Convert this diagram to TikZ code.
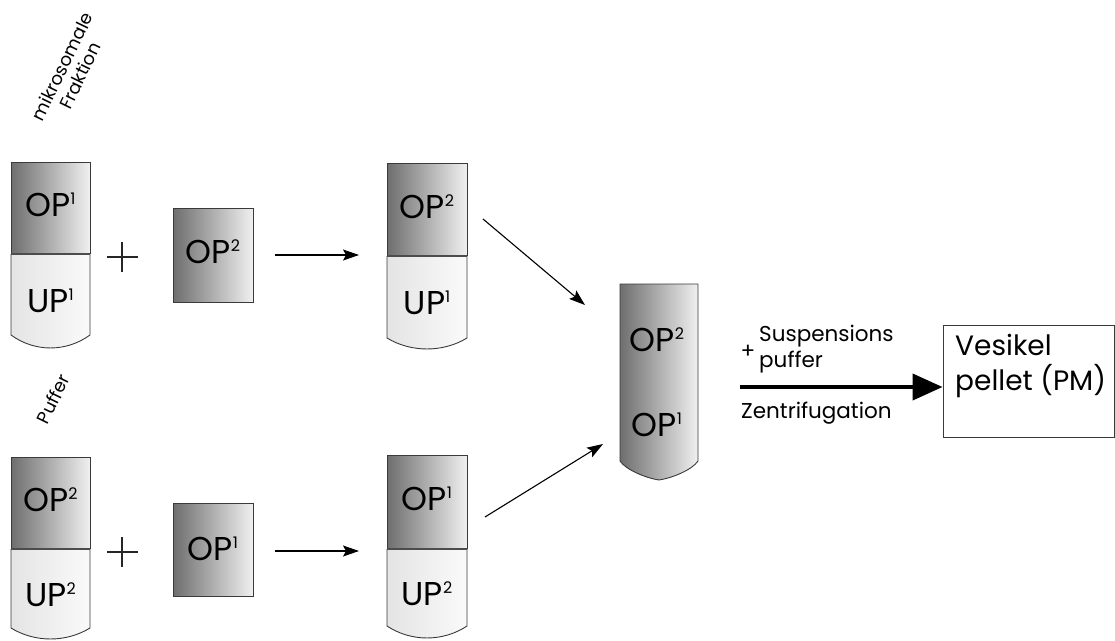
\documentclass[tikz,border=0pt]{standalone}
\usepackage{fontspec}
\setmainfont{Poppins}
\usetikzlibrary{arrows.meta,calc}

\definecolor{opdark}{HTML}{6E6E6E}
\definecolor{oplight}{HTML}{F0F0F0}
\definecolor{updark}{HTML}{E4E4E4}
\definecolor{uplight}{HTML}{FAFAFA}
\definecolor{edge}{HTML}{3A3A3A}

% small raised index after OP / UP
\newcommand\idx[1]{\raisebox{0.36em}{\fontsize{16}{16}\selectfont #1}}

\tikzset{
  outline/.style={draw=edge, line width=0.9pt},
  opfill/.style={left color=opdark, right color=oplight},
  upfill/.style={left color=updark, right color=uplight},
  lbl/.style={inner sep=0pt, font=\fontsize{33}{36}\selectfont},
  side/.style={inner sep=0pt, font=\fontsize{21.5}{26}\selectfont, align=left},
  tilt/.style={inner sep=0pt, font=\fontsize{18}{20}\selectfont, rotate=64, align=center},
  flow/.style={-{Stealth[length=16pt,width=11pt,inset=3pt]}, line width=1.1pt},
  bigflow/.style={-{Triangle[length=30pt,width=26pt]}, line width=4pt},
  plusbar/.style={line width=1.3pt, draw=black!85}
}

% two-part tube: dark upper phase, light lower phase with a rounded bottom
% #1 name, #2 left x, #3 right x, #4 top y, #5 divider y, #6 side end y, #7 bottom y, #8 upper text, #9 lower text
\newcommand\phasetube[9]{%
  \coordinate (#1-tl) at (#2,#4);
  \coordinate (#1-br) at (#3,#5);
  \shade[opfill] (#1-tl) rectangle (#1-br);
  \path[upfill] (#2,#5) -- (#2,#6) .. controls ($(#2,#6)!0.3!(#3,#6)+(0,{(#7-#6)*1.33})$) and ($(#2,#6)!0.7!(#3,#6)+(0,{(#7-#6)*1.33})$) .. (#3,#6) -- (#3,#5) -- cycle;
  \draw[outline] (#2,#5) -- (#2,#4) -- (#3,#4) -- (#3,#5);
  \draw[outline] (#2,#5) -- (#2,#6) .. controls ($(#2,#6)!0.3!(#3,#6)+(0,{(#7-#6)*1.33})$) and ($(#2,#6)!0.7!(#3,#6)+(0,{(#7-#6)*1.33})$) .. (#3,#6) -- (#3,#5);
  \draw[draw=black!70, line width=1.2pt] (#2,#5) -- (#3,#5);
  \node[lbl] (#1-up) at ($(#1-tl)!0.5!(#1-br)+(0,-3)$) {#8};
  \node[lbl] (#1-lo) at ($({(#2+#3)/2},#5)!0.5!({(#2+#3)/2},#6)+(0,6)$) {#9};
}

\begin{document}
\begin{tikzpicture}[x=1pt, y=-1pt]
\useasboundingbox (0,0) rectangle (1115,640);

% ---- upper row: microsomal fraction ----
\node[tilt] (mikro) at (71,71) {mikrosomale\\Fraktion};
\phasetube{ta}{11}{90}{162}{254}{335}{348}{OP\idx{1}}{UP\idx{1}}
\draw[plusbar] (107,257) -- (138,257) (122,242) -- (122,272);
\shade[opfill, outline] (173,208) rectangle (253,302);
\node[lbl] (addA) at (213,252) {OP\idx{2}};
\phasetube{tb}{387}{467}{163}{256}{338}{349}{OP\idx{2}}{UP\idx{1}}
\coordinate (addA-e) at (275,255);
\coordinate (tb-w) at (359,255);
\draw[flow] (addA-e) -- (tb-w);

% ---- lower row: buffer ----
\node[tilt] (puffer) at (53,399) {Puffer};
\phasetube{tc}{11}{90}{457}{549}{628}{639}{OP\idx{2}}{UP\idx{2}}
\draw[plusbar] (107,552) -- (138,552) (122,537) -- (122,567);
\shade[opfill, outline] (173,503) rectangle (253,596);
\node[lbl] (addB) at (213,549) {OP\idx{1}};
\phasetube{td}{387}{467}{455}{549}{626}{638}{OP\idx{1}}{UP\idx{2}}
\coordinate (addB-e) at (275,551);
\coordinate (td-w) at (359,551);
\draw[flow] (addB-e) -- (td-w);

% ---- combined tube ----
\shade[left color=opdark, right color=oplight]
  (620,284) -- (698,284) -- (698,461) .. controls (692,470) and (672,478) .. (659,480)
  .. controls (646,478) and (626,470) .. (620,461) -- cycle;
\draw[outline]
  (620,284) -- (698,284) -- (698,461) .. controls (692,470) and (672,478) .. (659,480)
  .. controls (646,478) and (626,470) .. (620,461) -- cycle;
\node[lbl] (mixA) at (657,340) {OP\idx{2}};
\node[lbl] (mixB) at (657,425) {OP\idx{1}};
\coordinate (mix-nw) at (585,305);
\coordinate (mix-sw) at (603,444);
\coordinate (tb-e) at (483,219);
\coordinate (td-e) at (485,517);
\draw[flow] (tb-e) -- (mix-nw);
\draw[flow] (td-e) -- (mix-sw);

% ---- centrifugation step ----
\coordinate (mix-e) at (740,387);
\node[draw=edge, line width=0.9pt, minimum width=171pt, minimum height=112pt, inner sep=0pt] (pellet) at (1028.5,381) {};
\node[inner sep=0pt, anchor=west, align=left, font=\fontsize{28}{35}\selectfont] (pelletTxt) at (955,366) {Vesikel\\pellet (PM)};
\draw[bigflow] (mix-e) -- (pellet.west |- mix-e);
\node[side] (plus) at (748,352) {+};
\node[side, anchor=west] (buf) at (759,349) {Suspensions\\puffer};
\node[side, anchor=west] (zent) at (741,413) {Zentrifugation};
\end{tikzpicture}
\end{document}
